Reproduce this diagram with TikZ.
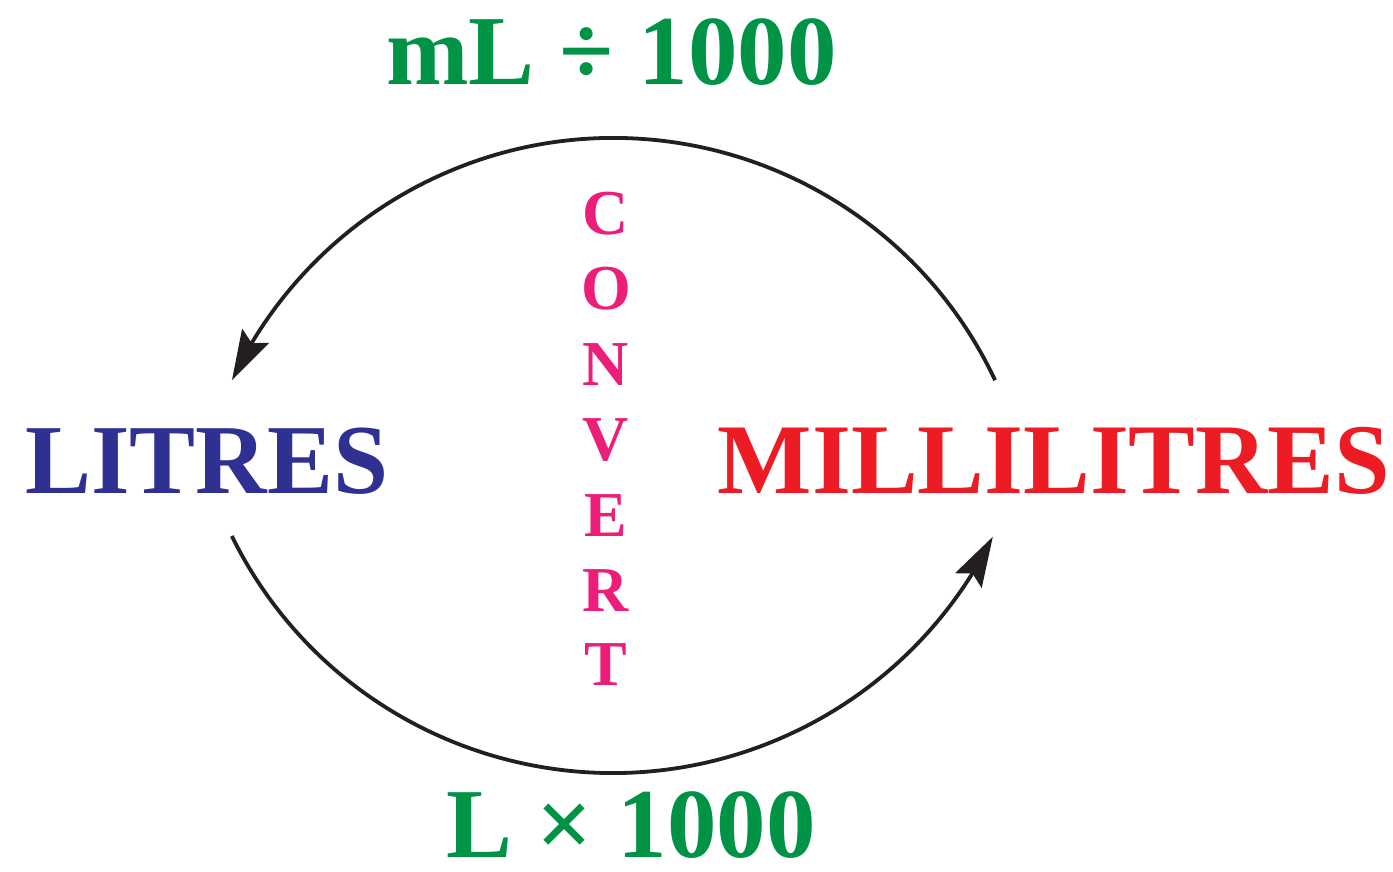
\documentclass[tikz,border=0pt]{standalone}
\usepackage{fontspec}
\setmainfont{Liberation Serif}
\usetikzlibrary{arrows.meta,calc,bending}
\definecolor{tgreen}{HTML}{009245}
\definecolor{tblue}{HTML}{2E3192}
\definecolor{tred}{HTML}{ED1C24}
\definecolor{tpink}{HTML}{EC1E79}
\definecolor{tline}{HTML}{231F20}
\tikzset{
  bigtxt/.style={inner sep=0pt, text depth=0pt, font=\fontsize{99}{110}\selectfont\bfseries},
  lettxt/.style={inner sep=0pt, anchor=base, text=tpink, font=\fontsize{64}{70}\selectfont\bfseries},
  cyc/.style={draw=tline, line width=3.8pt, -{Stealth[length=50pt,width=30pt,inset=8pt,flex]}}
}
\begin{document}
\begin{tikzpicture}[x=1pt,y=1pt]
\useasboundingbox (0,0) rectangle (1393,872);
\node[bigtxt, anchor=base west, text=tblue] (litres) at (25,378) {LITRES};
\node[bigtxt, anchor=base, text=tred, font=\fontsize{100}{110}\selectfont\bfseries] (ml) at (1054,378) {MILLILITRES};
\node[bigtxt, anchor=base, text=tgreen] (top) at (611.5,787) {mL ÷ 1000};
\node[bigtxt, anchor=base, text=tgreen] (bot) at (631,14) {L × 1000};
\foreach \l/\yy [count=\i] in {C/637,O/562,N/486,V/411,E/335,R/260,T/186}
  \node[lettxt] (c\i) at (606,\yy) {\l};
\coordinate (tstart) at ($(613.5,312.3)+(25.2:421.7)$);
\coordinate (bstart) at ($(612.5,523.3)+(206.2:424.3)$);
\draw[cyc] (tstart) arc[start angle=25.2, end angle=154.8, radius=421.7];
\draw[cyc] (bstart) arc[start angle=206.2, end angle=333.7, radius=424.3];
\end{tikzpicture}
\end{document}
